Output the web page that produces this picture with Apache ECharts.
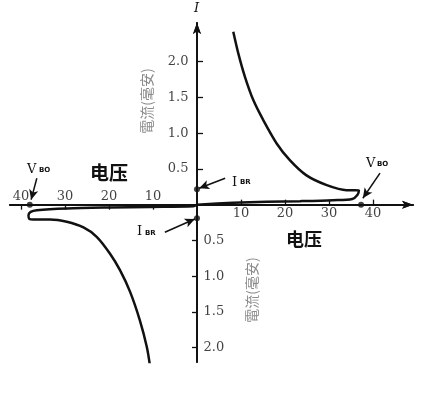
<!DOCTYPE html>
<html>
<head>
<meta charset="utf-8">
<script src="https://cdn.jsdelivr.net/npm/echarts@6/dist/echarts.min.js"></script>
<style>html,body{margin:0;padding:0;background:#fff}#c{width:423px;height:393px}</style>
</head>
<body>
<div id="c"></div>
<script>
// First-quadrant branch (voltage V, current mA)
const posBranchV = [8.25, 9.39, 10.9, 12.8, 15.07, 18.11, 21.1, 24.8, 29.5, 34.0, 35.9, 36.8, 36.5, 35.3, 30.9, 23.4, 15.8, 8.2, 0];
const posBranchI = [2.417, 2.115, 1.787, 1.462, 1.182, 0.856, 0.622, 0.413, 0.273, 0.203, 0.203, 0.2, 0.14, 0.08, 0.063, 0.049, 0.039, 0.025, 0];
// Third-quadrant branch
const negBranchV = [0, -0.84, -10.7, -19.8, -29.6, -36.4, -37.8, -38.3, -38.1, -37.2, -33.4, -29.6, -25.8, -22.8, -19.8, -17.5, -15.2, -13.0, -11.4, -10.7];
const negBranchI = [0, -0.021, -0.031, -0.039, -0.053, -0.077, -0.10, -0.147, -0.199, -0.207, -0.207, -0.24, -0.319, -0.45, -0.683, -0.916, -1.22, -1.615, -1.99, -2.245];
// Marked points: I_BR (+/-) and V_BO (+/-)
const dotV = [0, 0, 37.3, -38];
const dotI = [0.217, -0.19, 0, 0];
// Tick values
const xTicksPos = [10, 20, 30, 40];
const xTicksNeg = [-40, -30, -20, -10];
const yTicksPos = [0.5, 1.0, 1.5, 2.0];
const yTicksNeg = [-0.5, -1.0, -1.5, -2.0];
// Annotation arrows: [fromV, fromI, toV, toI]
const arrowVBOleft = [-36.4, 0.37, -37.7, 0.07];
const arrowVBOright = [41.6, 0.44, 37.7, 0.09];
const arrowIBRup = [6.4, 0.37, 0.5, 0.23];
const arrowIBRdown = [-7.3, -0.385, -0.5, -0.2];

const axisFont = 'DejaVu Serif';
const ink = '#111';

function zip(a, b) { return a.map((v, i) => [v, b[i]]); }
function arrow(a) { return [{coord: [a[0], a[1]]}, {coord: [a[2], a[3]]}]; }

const chart = echarts.init(document.getElementById('c'), null, {renderer: 'canvas'});

const baseLine = {show: true, onZero: true, onZeroAxisIndex: 0, symbol: ['none', 'arrow'], symbolSize: [6, 11], lineStyle: {color: ink, width: 1.8}};

function tickLabelSeries(points, pos, dist, fmt) {
  return {
    type: 'scatter', xAxisIndex: 0, yAxisIndex: 0, data: points,
    symbol: 'circle', symbolSize: 1, itemStyle: {color: 'rgba(0,0,0,0)'}, silent: true, z: 6,
    label: {show: true, position: pos, distance: dist, color: ink, fontFamily: axisFont, fontSize: 13, formatter: fmt}
  };
}

const option = {
  animation: false,
  backgroundColor: '#fff',
  grid: {left: 10, right: 10, top: 23, bottom: 31, containLabel: false, outerBoundsMode: 'none'},
  xAxis: [
    {
      type: 'value', position: 'bottom', min: -42.5, max: 49.1,
      axisLine: baseLine,
      axisTick: {show: true, inside: true, length: 5, lineStyle: {color: ink, width: 1.3}, customValues: xTicksPos},
      axisLabel: {show: false},
      splitLine: {show: false}
    },
    {
      type: 'value', position: 'top', min: -42.5, max: 49.1,
      axisLine: baseLine,
      axisTick: {show: true, inside: true, length: 5, lineStyle: {color: ink, width: 1.3}, customValues: xTicksNeg},
      axisLabel: {show: false},
      splitLine: {show: false}
    }
  ],
  yAxis: [
    {
      type: 'value', position: 'left', min: -2.2, max: 2.54,
      axisLine: baseLine,
      axisTick: {show: true, inside: true, length: 6, lineStyle: {color: ink, width: 1.3}, customValues: yTicksPos},
      axisLabel: {show: false},
      splitLine: {show: false}
    },
    {
      type: 'value', position: 'right', min: -2.2, max: 2.54,
      axisLine: baseLine,
      axisTick: {show: true, inside: true, length: 5, lineStyle: {color: ink, width: 1.3}, customValues: yTicksNeg},
      axisLabel: {show: false},
      splitLine: {show: false}
    }
  ],
  series: [
    {
      type: 'line', xAxisIndex: 0, yAxisIndex: 0, data: zip(posBranchV, posBranchI),
      showSymbol: false, smooth: 0.3, lineStyle: {color: ink, width: 2.5}, silent: true
    },
    {
      type: 'line', xAxisIndex: 0, yAxisIndex: 0, data: zip(negBranchV, negBranchI),
      showSymbol: false, smooth: 0.3, lineStyle: {color: ink, width: 2.5}, silent: true
    },
    {
      type: 'scatter', xAxisIndex: 0, yAxisIndex: 0, data: zip(dotV, dotI),
      symbolSize: 6, itemStyle: {color: ink}, silent: true, z: 5,
      markLine: {
        silent: true, symbol: ['none', 'arrow'], symbolSize: [7, 10],
        lineStyle: {color: ink, width: 1.5, type: 'solid'},
        label: {show: false},
        data: [arrow(arrowVBOleft), arrow(arrowVBOright), arrow(arrowIBRup), arrow(arrowIBRdown)]
      }
    },
    tickLabelSeries(xTicksPos.map(v => [v, 0]), 'bottom', 2, p => String(Math.abs(p.value[0]))),
    tickLabelSeries(xTicksNeg.map(v => [v, 0]), 'top', 1, p => String(Math.abs(p.value[0]))),
    tickLabelSeries(yTicksPos.map(v => [0, v]), 'left', 8, p => Math.abs(p.value[1]).toFixed(1)),
    tickLabelSeries(yTicksNeg.map(v => [0, v]), 'right', 6, p => Math.abs(p.value[1]).toFixed(1))
  ],
  graphic: [
    {type: 'text', x: 90, y: 163, style: {text: '电压', fontSize: 19, fontWeight: 'bold', fontFamily: 'Noto Sans CJK SC', fill: ink}},
    {type: 'text', x: 286, y: 230, style: {text: '电压', fontSize: 18, fontWeight: 'bold', fontFamily: 'Noto Sans CJK SC', fill: ink}},
    {type: 'text', x: 147, y: 101, rotation: Math.PI / 2, style: {text: '電流(毫安)', x: 0, y: 0, align: 'center', verticalAlign: 'middle', fontSize: 14, fontFamily: 'Noto Sans CJK TC', fill: '#8a8a8a'}},
    {type: 'text', x: 252, y: 290, rotation: Math.PI / 2, style: {text: '電流(毫安)', x: 0, y: 0, align: 'center', verticalAlign: 'middle', fontSize: 14, fontFamily: 'Noto Sans CJK TC', fill: '#8a8a8a'}},
    {type: 'text', x: 194, y: 2, style: {text: 'I', fontSize: 13, fontStyle: 'italic', fontFamily: axisFont, fill: ink}},
    // V_BO left
    {type: 'text', x: 27, y: 163, style: {text: 'V', fontSize: 13, fontFamily: axisFont, fill: ink}},
    {type: 'text', x: 39, y: 167, style: {text: 'BO', fontSize: 7, fontWeight: 'bold', fontFamily: 'DejaVu Sans', fill: ink}},
    // V_BO right
    {type: 'text', x: 366, y: 157, style: {text: 'V', fontSize: 13, fontFamily: axisFont, fill: ink}},
    {type: 'text', x: 377, y: 161, style: {text: 'BO', fontSize: 7, fontWeight: 'bold', fontFamily: 'DejaVu Sans', fill: ink}},
    // I_BR upper
    {type: 'text', x: 232, y: 176, style: {text: 'I', fontSize: 13, fontFamily: axisFont, fill: ink}},
    {type: 'text', x: 240, y: 179, style: {text: 'BR', fontSize: 7, fontWeight: 'bold', fontFamily: 'DejaVu Sans', fill: ink}},
    // I_BR lower
    {type: 'text', x: 137, y: 225, style: {text: 'I', fontSize: 13, fontFamily: axisFont, fill: ink}},
    {type: 'text', x: 145, y: 230, style: {text: 'BR', fontSize: 7, fontWeight: 'bold', fontFamily: 'DejaVu Sans', fill: ink}}
  ]
};
chart.setOption(option);
</script>
</body>
</html>
